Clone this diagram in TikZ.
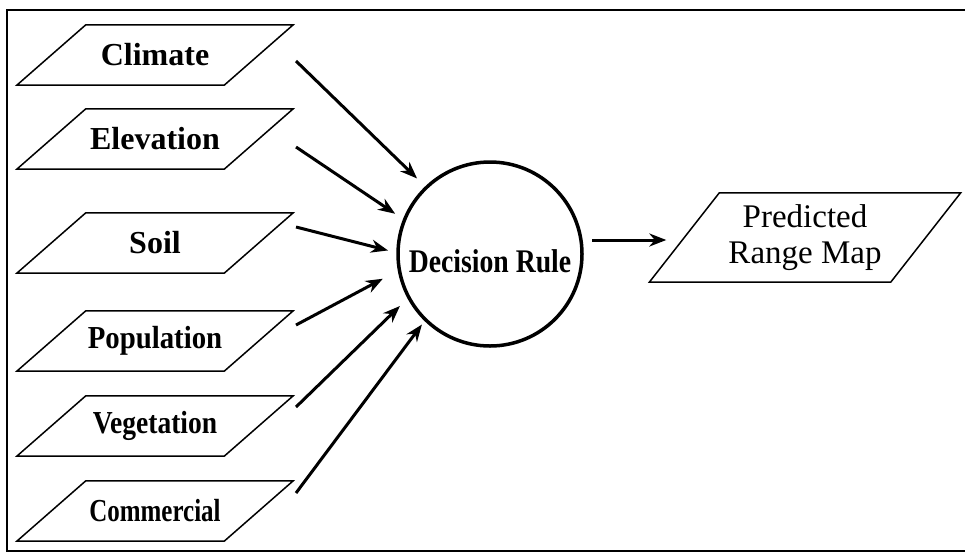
\documentclass[tikz,border=0pt]{standalone}
\usepackage{fontspec}
\setmainfont{Liberation Serif}
\usepackage{graphicx}
\usetikzlibrary{arrows.meta, calc}

\begin{document}
\begin{tikzpicture}[
  x=1pt, y=-1pt,
  >={Stealth[length=17pt, width=13pt]},
  layer/.style={minimum width=207pt, minimum height=60pt, inner sep=0pt,
                font=\fontsize{32}{36}\selectfont\bfseries},
  slab/.style={line width=1.5pt, line join=miter},
  rule/.style={draw, circle, line width=3.5pt, minimum size=184pt,
               inner sep=0pt, font=\fontsize{33}{36}\selectfont\bfseries},
  result/.style={minimum width=241pt, minimum height=89pt, inner sep=0pt,
                 align=center, font=\fontsize{33}{36}\selectfont},
  feed/.style={->, line width=3pt},
]
\useasboundingbox (0,0) rectangle (965,555);

% frame, open on the right
\draw[line width=2pt] (965,10) -- (7,10) -- (7,551) -- (965,551);

% ======================= decision rule ==================================
\node[rule] (rule) at (490,254)
  {\raisebox{-18pt}[0pt][0pt]{\scalebox{0.84}[1]{Decision Rule}}};

% ======================= input layers ===================================
\foreach \n/\t/\s/\y/\dy/\a/\r in {clim/Climate/1/55/6/134/105,
    elev/Elevation/1/139/8/157/103, soil/Soil/1/243/-16/178/102,
    pop/Population/0.9/341/-16/193/110, veg/Vegetation/0.86/426/-19/210/104,
    com/Commercial/0.78/511/-18/226/98} {
  \node[layer] (\n) at (155,\y) {\scalebox{\s}[1]{\t}};
  \draw[slab] ([xshift=34.5pt]\n.north west) -- ([xshift=34.5pt]\n.north east)
    -- ([xshift=-34.5pt]\n.south east) -- ([xshift=-34.5pt]\n.south west) -- cycle;
  \draw[feed] ([shift={(141,\dy)}]\n.center) -- ($(rule.center)!\r pt!(rule.\a)$);
}

% ======================= output =========================================
\node[result] (map) at (805,237.5) {Predicted\\Range Map};
\draw[slab] ([xshift=35pt]map.north west) -- ([xshift=35pt]map.north east)
  -- ([xshift=-35pt]map.south east) -- ([xshift=-35pt]map.south west) -- cycle;
\draw[feed] ([shift={(102,-14)}]rule.center) -- ([shift={(-18,2.5)}]map.west);
\end{tikzpicture}
\end{document}
